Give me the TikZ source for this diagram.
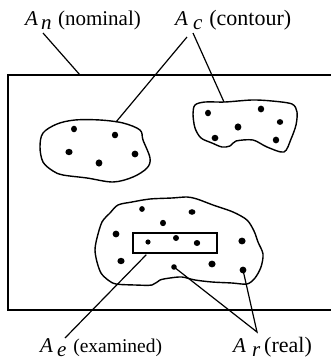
\documentclass[tikz,border=0pt]{standalone}
\usepackage{fontspec}
\setmainfont{Liberation Serif}
% area symbol: italic A with a full-size, lowered index
\newcommand{\symA}[3]{{\fontsize{21}{24}\selectfont\itshape A\hspace{#2}\raisebox{-4pt}{#1}\hspace{#3}}}
\begin{document}
\begin{tikzpicture}[x=1pt,y=-1pt,
  outline/.style={line width=1.4pt, line join=round},
  leader/.style={line width=1.2pt},
  frame/.style={line width=1.6pt},
  dot/.style={fill=black},
  lbl/.style={anchor=base west, inner sep=0pt, font=\fontsize{21}{24}\selectfont}]
\useasboundingbox (0,0) rectangle (330,362);

% nominal area
\draw[frame] (345,75) -- (8,75) -- (8,310) -- (345,310);

% left contour patch
\draw[outline] plot[smooth cycle, tension=0.55] coordinates {
  (43,133) (57,124) (75,120) (100,120) (123,123) (140,130) (143,140)
  (150,158) (147,168) (133,177) (113,182) (87,178) (63,175) (53,171)
  (43,162) (40,147)};
% right contour patch
\draw[outline] plot[smooth cycle, tension=0.5] coordinates {
  (195,105) (205,102) (225,102) (252,100) (272,101) (292,104) (297,112)
  (296,125) (291,139) (284,152) (267,147) (253,140) (236,141) (230,146)
  (222,147) (212,143) (201,138) (195,128) (193,114)};
% lower contour patch
\draw[outline] plot[smooth cycle, tension=0.5] coordinates {
  (102,222) (110,213) (118,205) (132,202) (150,199) (172,198) (187,197)
  (197,199) (213,205) (233,212) (247,220) (254,231) (258,242) (263,254)
  (261,267) (255,278) (247,284) (232,283) (212,282) (195,280) (182,277)
  (170,278) (160,280) (152,285) (135,285) (116,284) (108,280) (101,273)
  (97,262) (95,250) (97,238)};

% examined window
\node[draw, line width=1.4pt, minimum width=84pt, minimum height=20pt, inner sep=0pt]
  (ex) at (175,243) {};

% real contact spots
\fill[dot] (74,129) ellipse (3 and 3.3);
\fill[dot] (115,135) ellipse (3.2 and 3.3);
\fill[dot] (69,152) ellipse (3.6 and 3.2);
\fill[dot] (135,154) ellipse (3.4 and 3.4);
\fill[dot] (99,163) ellipse (3.4 and 3.6);
\fill[dot] (208,113) ellipse (3 and 3.3);
\fill[dot] (261,109) ellipse (3.2 and 3.4);
\fill[dot] (280,122) ellipse (3.2 and 2.9);
\fill[dot] (238,127) ellipse (3.4 and 3.6);
\fill[dot] (215,138) ellipse (3.4 and 3.2);
\fill[dot] (276,140) ellipse (3.2 and 3.4);
\fill[dot] (142,209) ellipse (2.8 and 2.9);
\fill[dot] (192,212) ellipse (3.4 and 2.8);
\fill[dot] (163,223) ellipse (3 and 3.2);
\fill[dot] (116,234) ellipse (3.4 and 3.4);
\fill[dot] (148,242) ellipse (2.6 and 2.6);
\fill[dot] (176,238) ellipse (3 and 3);
\fill[dot] (197,243) ellipse (3.2 and 3);
\fill[dot] (242,241) ellipse (3.6 and 3.4);
\fill[dot] (121,261) ellipse (3.6 and 3.2);
\fill[dot] (212,264) ellipse (3.6 and 3.4);
\coordinate (r1) at (174,267);
\fill[dot] (r1) ellipse (2.8 and 2.8);
\coordinate (r2) at (243,270);
\fill[dot] (r2) ellipse (3.4 and 3.4);

% labels
\node[lbl] (ln) at (25,25) {\symA{n}{3pt}{6.5pt}(nominal)};
\node[lbl] (lc) at (175,25) {\symA{c}{5pt}{7pt}{\fontsize{22}{24}\selectfont(contour)}};
\node[lbl] (le) at (40,352) {\symA{e}{4pt}{7pt}{\fontsize{19.5}{24}\selectfont(examined)}};
\node[lbl] (lr) at (233,352) {\symA{r}{6pt}{4pt}{\fontsize{22}{24}\selectfont(real)}};

% leader lines
\coordinate (n0) at (43,33);
\coordinate (n1) at (80,75);
\draw[leader] (n0) -- (n1);
\coordinate (c0) at (187,37);
\coordinate (c1) at (116,122);
\coordinate (c2) at (193,33);
\coordinate (c3) at (224,102);
\draw[leader] (c0) -- (c1);
\draw[leader] (c2) -- (c3);
\coordinate (e0) at (65,338);
\path (ex.south west) ++(14,1) coordinate (e1);
\draw[leader] (e1) -- (e0);
\coordinate (rj) at (257,332);
\draw[leader] (r1) -- (rj) -- (r2);
\end{tikzpicture}
\end{document}
